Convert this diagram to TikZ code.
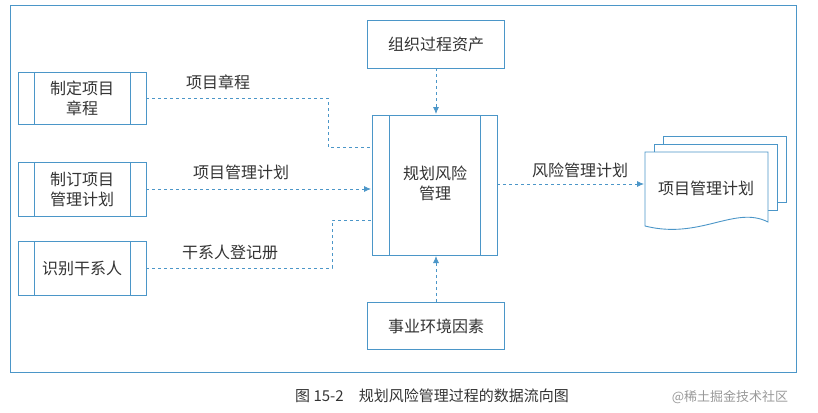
\documentclass[tikz,border=0pt]{standalone}
\usepackage{fontspec}
\newfontfamily\cjk{Noto Sans CJK SC}
\usetikzlibrary{arrows.meta}
\definecolor{lb}{RGB}{75,150,200}
\begin{document}
\begin{tikzpicture}[x=1pt,y=-1pt,
  box/.style={draw=lb,line width=0.9pt,fill=white},
  lbl/.style={font=\cjk\fontsize{16}{20}\selectfont,text=black!80,align=center},
  dl/.style={draw=lb,dashed,line width=0.8pt},
  ar/.style={dl,-{Latex[length=7pt,width=6pt]}}]
\useasboundingbox (0,0) rectangle (818,412);
\draw[draw=lb,line width=0.9pt] (10,5) rectangle (796,372);
% left boxes
\foreach \n/\ya/\yb/\t in {a/72/124/{制定项目\\章程},b/162/216/{制订项目\\管理计划},c/241/295/{识别干系人}}{
  \draw[box] (18,\ya) rectangle (146,\yb);
  \draw[draw=lb,line width=0.9pt] (34,\ya)--(34,\yb) (130,\ya)--(130,\yb);
  \node[lbl] (\n) at (82,{(\ya+\yb)/2}) {\t};
  \coordinate (\n r) at (146,{(\ya+\yb)/2});
}
% center
\draw[box] (372,115) rectangle (497,255);
\draw[draw=lb,line width=0.9pt] (389,115)--(389,255) (480,115)--(480,255);
\node[lbl] (m) at (435,183) {规划风险\\管理};
\node[box,lbl,minimum width=137pt,minimum height=48pt] (t) at (436,44) {组织过程资产};
\node[box,lbl,minimum width=137pt,minimum height=47pt] (u) at (436,326) {事业环境因素};
% documents
\foreach \dx/\dy in {18/-16,9/-8}{
  \draw[box] (645+\dx,152+\dy) rectangle (768+\dx,218+\dy);
}
\draw[box] (645,152) -- (768,152) -- (768,222) .. controls (735,205) and (700,240) .. (645,226) -- cycle;
\node[lbl] (d) at (706,188) {项目管理计划};
% connectors
\draw[dl] (ar) -- (328,98) -- (328,147) -- (372,147);
\draw[ar] (br) -- (371,189);
\draw[dl] (cr) -- (332,268) -- (332,220) -- (372,220);
\draw[ar] (t.south) -- (436,114);
\draw[ar] (u.north) -- (436,256);
\draw[ar] (497,184) -- (644,184);
\node[lbl] at (218,82) {项目章程};
\node[lbl] at (241,172) {项目管理计划};
\node[lbl] at (230,252) {干系人登记册};
\node[lbl] at (580,170) {风险管理计划};
\node[lbl,font=\cjk\fontsize{15}{18}\selectfont] (cap) at (432,396) {图 15-2\quad 规划风险管理过程的数据流向图};
\node[font=\cjk\fontsize{13}{15}\selectfont,text=black!40] (wm) at (730,397) {@稀土掘金技术社区};
\end{tikzpicture}
\end{document}
